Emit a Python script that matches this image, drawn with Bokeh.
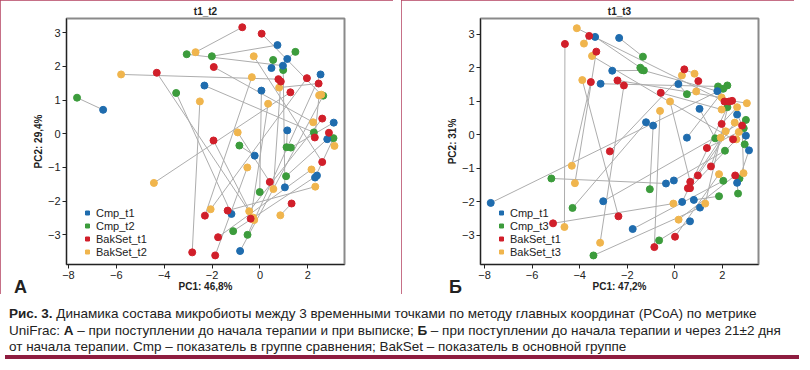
from bokeh.plotting import figure
from bokeh.layouts import column, row
from bokeh.models import ColumnDataSource, Legend, LegendItem, Div, FixedTicker, Range1d
from bokeh.embed import file_html
from bokeh.resources import INLINE

# ---------------- Panel A: t1_t2 ----------------
a_title = "t1_t2"
a_xlabel = "PC1: 46,8%"
a_ylabel = "PC2: 29,4%"
a_labels = ["Cmp_t1", "Cmp_t2", "BakSet_t1", "BakSet_t2"]

a_cmp_t1_x = [-6.55, 0.73, 1.14, 0.96, 0.48, 2.53, -2.32, 0.06, 1.14, 3.08, 2.81, -0.22, 2.38, 2.30, 1.04, -1.19, -0.83]
a_cmp_t1_y = [0.71, 2.63, 2.22, 2.02, 1.95, 1.76, 1.43, 1.28, 0.10, 0.33, -0.16, -0.65, -1.24, -1.30, -1.59, -2.38, -3.48]
a_cmp_t2_x = [-7.64, -2.01, 1.48, -3.06, 0.55, -0.52, 2.25, -0.01, 1.11, 1.29, 1.09, -0.86, -1.12, 3.07, 0.97, -3.50, 2.64]
a_cmp_t2_y = [1.07, 2.30, 2.43, 2.36, 2.19, -3.00, 0.04, -1.73, -0.40, -0.41, -1.26, -0.35, -2.89, -0.13, 1.89, 1.21, 1.13]

a_bak_t1_x = [-0.74, 0.07, -1.93, -4.31, 0.77, 0.87, 1.96, 2.45, 1.27, 2.60, 2.88, 2.29, -1.94, 2.60, 0.41, 1.32, -1.35, -2.30, -0.39, -1.75, -2.83, -1.87]
a_bak_t1_y = [3.16, 2.97, 1.98, 1.81, 1.62, 1.55, 1.65, 1.49, 1.23, 0.45, 0.03, -0.11, -0.20, -0.84, -1.43, -2.07, -2.28, -2.43, -2.52, -3.07, -3.52, -3.61]
a_bak_t2_x = [-2.69, 2.56, 2.22, -0.28, -5.80, 0.56, -2.06, 0.80, -4.43, -0.45, 3.11, 2.47, -0.24, -0.26, -0.93, 0.85, 2.31, -0.34, 0.34, 2.15, -2.51, -0.53]
a_bak_t2_y = [2.42, 1.16, 0.34, -2.49, 1.76, -1.64, -2.24, 1.37, -1.46, -2.30, -0.36, 1.14, -2.56, 2.30, 0.04, -2.42, -1.57, 1.68, 0.89, -1.06, 0.96, -1.00]

# ---------------- Panel B: t1_t3 ----------------
b_title = "t1_t3"
b_xlabel = "PC1: 47,2%"
b_ylabel = "PC2: 31%"
b_labels = ["Cmp_t1", "Cmp_t3", "BakSet_t1", "BakSet_t3"]

b_cmp_t1_x = [-3.35, -2.34, -2.63, -3.12, 0.15, 1.79, 1.04, 2.62, 2.99, 3.12, 0.51, -1.21, -0.91, -0.37, -0.04, -3.01, 0.31, 0.80, 1.06, 0.64, -1.77, 2.62, -7.74]
b_cmp_t1_y = [2.92, 2.89, 1.91, 1.52, 1.51, 1.30, 0.77, 0.60, -0.03, -0.47, -0.09, 0.37, 0.27, -1.46, -1.37, -1.99, -2.01, -1.95, -2.18, -2.59, -2.82, -1.44, -2.04]
b_cmp_t3_x = [-1.45, -1.34, -1.30, 1.82, 0.51, -1.38, 1.70, 2.90, 2.94, 2.72, 2.21, -4.30, -1.05, -5.19, 2.11, 2.99, 2.21, 1.86, -3.42, -0.66, 2.04, 2.66, 2.04]
b_cmp_t3_y = [2.00, 2.33, 1.92, 1.44, 1.21, 1.93, -0.11, 0.19, -0.29, -1.31, 1.47, -2.19, -1.63, -1.31, -0.48, 0.44, 0.82, -1.84, -3.61, -3.16, -1.38, -1.76, 1.37]

b_bak_t1_x = [-3.60, -4.62, -3.30, -3.53, -2.41, -2.14, -0.59, 0.40, 0.99, 2.09, 2.28, 2.41, 1.97, 2.83, 2.45, 1.35, 1.52, 0.97, 0.65, 0.55, 0.64, 2.54, -2.73, -5.12, -2.37, 0.01, -0.86]
b_bak_t1_y = [2.95, 2.71, 2.48, 1.57, 1.62, 1.47, 1.25, 1.95, 1.60, 0.99, 0.99, 1.01, 0.32, 0.27, -0.14, -0.40, -0.95, -1.22, -1.41, -1.60, -1.60, -1.22, -0.50, -2.65, -2.44, -3.05, -3.36]
b_bak_t3_x = [-3.82, -4.64, -4.20, -4.33, 1.97, -3.14, 1.97, 0.83, 0.90, -4.12, 1.28, 3.03, 2.62, 2.89, -3.48, 2.69, 1.93, 2.52, -0.20, 2.14, 2.59, 0.16, 0.30, -0.06, -3.89, 1.86, -0.62]
b_bak_t3_y = [2.72, -2.76, -1.45, -0.93, 1.11, -3.23, 0.75, 1.82, 1.29, 3.18, -2.06, 0.94, 0.82, -1.15, 2.35, 0.08, -0.09, 0.36, 0.99, 0.10, -0.14, -2.54, 1.77, -2.06, 1.63, -1.18, 0.71]

x_ticks = [-8, -6, -4, -2, 0, 2]
y_ticks = [-3, -2, -1, 0, 1, 2, 3]
panel_letters = ["А", "Б"]

BLUE = "#1f6cae"
GREEN = "#3c9c3c"
RED = "#d11f2a"
ORANGE = "#f0b54d"
LINE = "#adadad"
FONT = "Liberation Sans"
BORDER = "#b3405f"
NAN = float("nan")


def make_panel(title, xlabel, ylabel, labels, cmp1, cmp2, bak1, bak2,
               xr, yr, left, right):
    p = figure(width=393, height=294, output_backend="svg", toolbar_location=None,
               x_range=Range1d(*xr), y_range=Range1d(*yr),
               min_border_left=left, min_border_right=right,
               min_border_top=18, min_border_bottom=0)
    p.title.text = title
    p.title.align = "center"
    p.title.text_font = FONT
    p.title.text_font_size = "10px"
    p.title.text_font_style = "bold"
    p.title.text_color = "#222222"
    p.title.standoff = 3
    p.grid.visible = False
    p.outline_line_color = "#8a8a8a"
    p.outline_line_width = 2
    p.background_fill_color = "white"
    p.border_fill_color = "white"
    p.styles = {"outline": "2px solid " + BORDER, "outline-offset": "-2px"}

    for ax in (p.xaxis[0], p.yaxis[0]):
        ax.major_label_text_font = FONT
        ax.major_label_text_font_size = "11px"
        ax.major_label_text_color = "#222222"
        ax.axis_label_text_font = FONT
        ax.axis_label_text_font_size = "10px"
        ax.axis_label_text_font_style = "bold"
        ax.axis_label_text_color = "#222222"
        ax.minor_tick_line_color = None
        ax.major_tick_out = 4
        ax.major_tick_in = 0
        ax.axis_line_color = "#222222"
        ax.major_tick_line_color = "#222222"
        ax.major_label_standoff = 2
    p.xaxis[0].axis_label_standoff = -1
    p.yaxis[0].axis_label_standoff = 1
    p.xaxis[0].ticker = FixedTicker(ticks=x_ticks)
    p.yaxis[0].ticker = FixedTicker(ticks=y_ticks)
    p.xaxis[0].axis_label = xlabel
    p.yaxis[0].axis_label = ylabel

    groups = [(cmp1, cmp2, BLUE, GREEN), (bak1, bak2, RED, ORANGE)]
    for (t1, t2, c1, c2) in groups:
        src = ColumnDataSource(dict(x0=t1[0], y0=t1[1], x1=t2[0], y1=t2[1]))
        p.segment("x0", "y0", "x1", "y1", source=src, line_color=LINE, line_width=1)
    for (t1, t2, c1, c2) in groups:
        p.scatter(t2[0], t2[1], size=7, color=c2, line_color=c2)
        p.scatter(t1[0], t1[1], size=7, color=c1, line_color=c1)

    items = []
    for lab, c in zip(labels, [BLUE, GREEN, RED, ORANGE]):
        r = p.scatter([NAN], [NAN], marker="square", size=13, color=c)
        items.append(LegendItem(label=lab, renderers=[r]))
    leg = Legend(items=items, location=(12, 2), label_text_font=FONT,
                 label_text_font_size="11px", label_text_color="#222222",
                 glyph_width=10, glyph_height=13, spacing=0, padding=4,
                 margin=0, label_standoff=4, label_height=13,
                 background_fill_alpha=0, border_line_alpha=0)
    p.add_layout(leg)
    return p


p1 = make_panel(a_title, a_xlabel, a_ylabel, a_labels,
                (a_cmp_t1_x, a_cmp_t1_y), (a_cmp_t2_x, a_cmp_t2_y),
                (a_bak_t1_x, a_bak_t1_y), (a_bak_t2_x, a_bak_t2_y),
                (-8.08, 3.53), (-3.88, 3.42), 66, 49)
p2 = make_panel(b_title, b_xlabel, b_ylabel, b_labels,
                (b_cmp_t1_x, b_cmp_t1_y), (b_cmp_t3_x, b_cmp_t3_y),
                (b_bak_t1_x, b_bak_t1_y), (b_bak_t3_x, b_bak_t3_y),
                (-8.17, 3.52), (-3.88, 3.47), 79, 36)

letter_style = "position:absolute;top:-27px;font-family:Liberation Sans;font-weight:bold;font-size:18px;color:#222222;"
letters_html = ('<div style="position:relative;height:0;overflow:visible;">'
                '<span style="' + letter_style + 'left:5px;">' + panel_letters[0] + '</span>'
                '<span style="' + letter_style + 'left:440px;">' + panel_letters[1] + '</span>'
                '</div>')

caption = Div(
    text=(letters_html +
          "<b>Рис. 3.</b> Динамика состава микробиоты между 3 временными точками по методу главных координат (PCoA) по метрике<br>"
          "UniFrac: <b>А</b> – при поступлении до начала терапии и при выписке; <b>Б</b> – при поступлении до начала терапии и через 21±2 дня<br>"
          "от начала терапии. Cmp – показатель в группе сравнения; BakSet – показатель в основной группе"),
    width=794, height=56,
    styles={"font-family": FONT, "font-size": "13.5px", "line-height": "16.5px",
            "color": "#222222", "white-space": "nowrap", "padding-left": "4px",
            "padding-top": "3px", "border-bottom": "4px solid #8e1d40",
            "box-sizing": "border-box", "overflow": "visible"})

layout = column(row(p1, p2, spacing=8), caption, spacing=4)
open("out.html", "w").write(file_html(layout, INLINE))
